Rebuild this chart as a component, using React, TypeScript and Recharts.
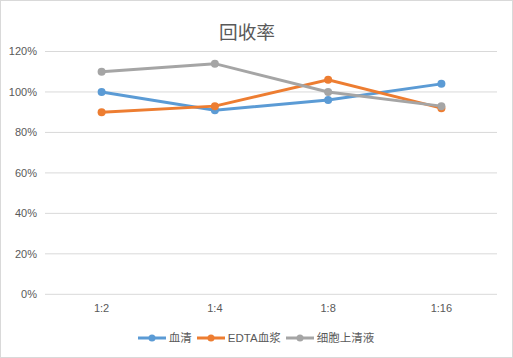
import React from "react";
import { LineChart, Line, XAxis, YAxis, CartesianGrid } from "recharts";

const categories = ["1:2", "1:4", "1:8", "1:16"];
const serum = [1.0, 0.91, 0.96, 1.04];
const edta = [0.9, 0.93, 1.06, 0.92];
const supernatant = [1.1, 1.14, 1.0, 0.93];
const yTicks = [0, 0.2, 0.4, 0.6, 0.8, 1.0, 1.2];
const seriesNames = ["血清", "EDTA血浆", "细胞上清液"];
const colors = ["#5B9BD5", "#ED7D31", "#A5A5A5"];

const data = categories.map((c, i) => ({
  name: c,
  s0: serum[i],
  s1: edta[i],
  s2: supernatant[i],
}));

const FONT = '"Liberation Sans", "Noto Sans CJK SC", sans-serif';

const makeDot = (color: string) => (props: any) => {
  const { cx, cy, index } = props;
  if (cx == null || cy == null) return <g key={index} />;
  return <circle key={index} cx={cx} cy={cy} r={4} fill={color} />;
};

export default function App() {
  return (
    <div
      style={{
        position: "fixed",
        left: 0,
        top: 0,
        width: 513,
        height: 358,
        overflow: "hidden",
        boxSizing: "border-box",
        border: "1px solid #d9d9d9",
        background: "#fff",
        fontFamily: FONT,
      }}
    >
      <style>{"html,body{margin:0;padding:0;overflow:hidden;}"}</style>
      <div
        style={{
          position: "absolute",
          left: 146,
          width: 200,
          top: 17,
          textAlign: "center",
          fontSize: 18.7,
          color: "#595959",
          fontFamily: '"Noto Sans CJK SC", sans-serif',
          lineHeight: "26px",
        }}
      >
        回收率
      </div>
      <div
        style={{
          position: "absolute",
          left: -1,
          top: -1,
          width: 497,
          height: 358,
          overflow: "hidden",
        }}
      >
        <LineChart
          width={513}
          height={358}
          data={data}
          accessibilityLayer={false}
          style={{ outline: "none" }}
          margin={{ top: 51.5, right: 15, bottom: 33.7, left: 0 }}
        >
          <CartesianGrid vertical={false} stroke="#d9d9d9" strokeWidth={1} />
          <XAxis
            dataKey="name"
            axisLine={false}
            tickLine={false}
            tickSize={0}
            tickMargin={10}
            height={30}
            padding={{ left: 56.6, right: 56.6 }}
            tick={{ fill: "#595959", fontSize: 11, fontFamily: FONT }}
          />
          <YAxis
            domain={[0, 1.2]}
            ticks={yTicks}
            width={45}
            axisLine={false}
            tickLine={false}
            tickSize={0}
            tickMargin={8}
            tickFormatter={(v: number) => `${Math.round(v * 100)}%`}
            tick={{ fill: "#595959", fontSize: 11, fontFamily: FONT }}
          />
          {["s0", "s1", "s2"].map((k, i) => (
            <Line
              key={k}
              type="linear"
              dataKey={k}
              name={seriesNames[i]}
              stroke={colors[i]}
              strokeWidth={3}
              dot={makeDot(colors[i])}
              activeDot={false}
              isAnimationActive={false}
            />
          ))}
        </LineChart>
      </div>
      <div
        style={{
          position: "absolute",
          left: 0,
          width: 513,
          top: 329,
          display: "flex",
          justifyContent: "center",
          alignItems: "center",
          fontSize: 11.5,
          color: "#595959",
          fontFamily: FONT,
          boxSizing: "border-box",
        }}
      >
        {seriesNames.map((n, i) => (
          <div key={n} style={{ display: "flex", alignItems: "center", marginRight: 4 }}>
            <svg width={30} height={16} style={{ marginRight: 2 }}>
              <line x1={1} y1={8} x2={29} y2={8} stroke={colors[i]} strokeWidth={3} />
              <circle cx={15} cy={8} r={3.5} fill={colors[i]} />
            </svg>
            <span style={{ lineHeight: "16px" }}>{n}</span>
          </div>
        ))}
      </div>
    </div>
  );
}
